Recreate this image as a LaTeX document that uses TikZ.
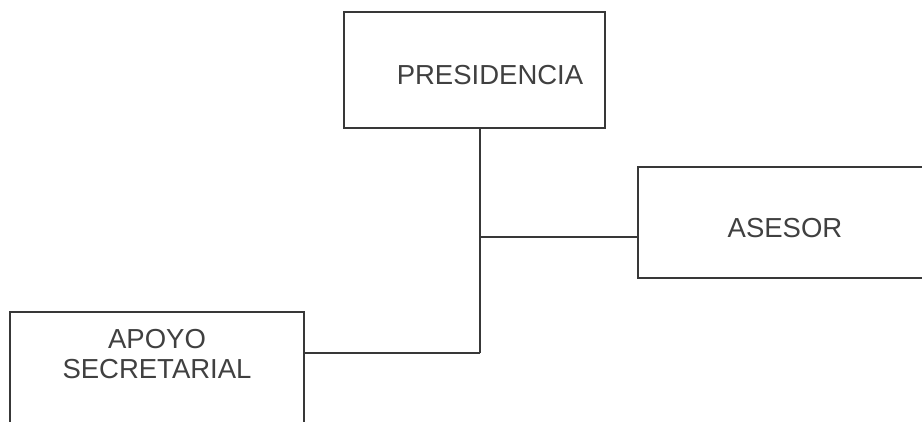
\documentclass[tikz,border=0pt]{standalone}
\usepackage{fontspec}
\setmainfont{Liberation Sans}
\usetikzlibrary{positioning,calc}

\begin{document}
\begin{tikzpicture}[x=1pt,y=-1pt]
                    \tikzstyle{every node}=[inner sep=0]
                    \tikzstyle{unit}=[draw=black!78,line width=1.3,rectangle,fill=none]
                    \tikzstyle{unitname}=[draw=none,text=black!75,font=\fontsize{27.5}{30}\selectfont,align=center]
                    \tikzstyle{wire}=[draw=black!78,line width=1.3]
                    \useasboundingbox (0,0) rectangle (922,421);
                    \clip (0,0) rectangle (922,421);
                    {
                        \node[unit,minimum width=261,minimum height=116] (pres) at (474.5,70) {};
                        \node[unit,minimum width=292,minimum height=111] (ases) at (784,222.5) {};
                        \node[unit,minimum width=294,minimum height=128] (apoyo) at (157,376) {};

                        \node[unitname,anchor=base] (prestxt) at (490,84) {PRESIDENCIA};
                        \node[unitname,anchor=base] (asestxt) at (785,237) {ASESOR};
                        \node[unitname] (apoyotxt) at (157,354) {APOYO\\SECRETARIAL};

                        \coordinate (fork) at (480,237);
                        \coordinate (trunk) at (480,353);

                        \draw[wire] (pres.south -| trunk) -- (trunk);
                        \draw[wire] (fork) -- (fork -| ases.west);
                        \draw[wire] (trunk) -- (trunk -| apoyo.east);
                    }
\end{tikzpicture}
\end{document}
